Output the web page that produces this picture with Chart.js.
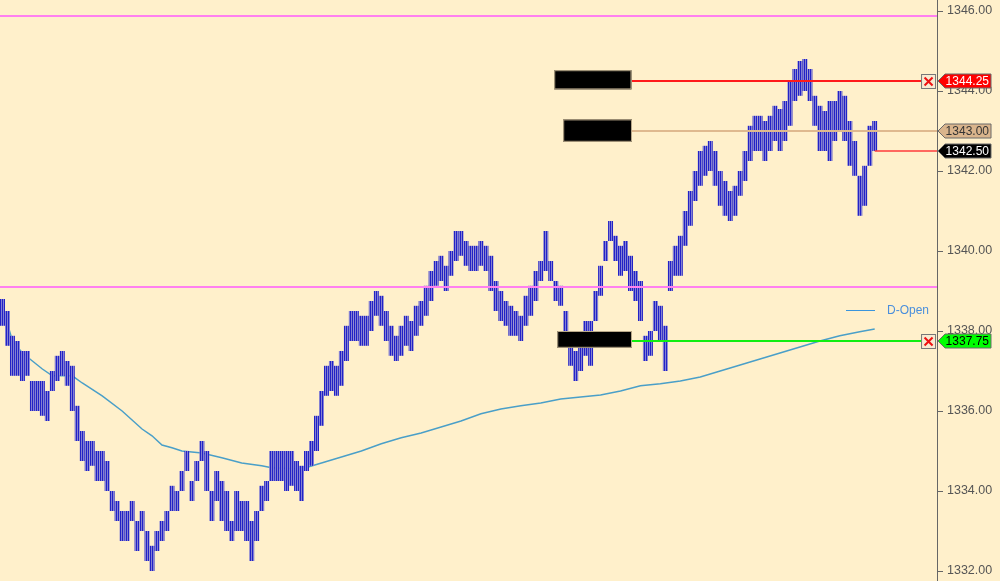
<!DOCTYPE html>
<html>
<head>
<meta charset="utf-8">
<script src="https://cdn.jsdelivr.net/npm/chart.js@4.4.1/dist/chart.umd.min.js"></script>
<style>
  html, body { margin: 0; padding: 0; background: #fff0cb; }
  #wrap { width: 1000px; height: 581px; }
</style>
</head>
<body>
<div id="wrap"><canvas id="priceChart"></canvas></div>
<script>
// Price bars (high / low per bar)
const highs = [
  1338.80, 1338.50, 1337.88, 1337.75, 1337.50, 1337.50, 1336.75, 1336.75, 1336.75, 1336.50,
  1337.00, 1337.38, 1337.50, 1337.25, 1337.13, 1336.13, 1335.50, 1335.25, 1335.25, 1335.00,
  1335.00, 1334.75, 1334.00, 1333.75, 1333.50, 1333.50, 1333.75, 1333.25, 1333.50, 1333.00,
  1332.63, 1333.00, 1333.25, 1333.50, 1334.13, 1334.00, 1334.50, 1335.00, 1334.25, 1334.75,
  1335.25, 1335.00, 1334.00, 1334.50, 1334.25, 1334.00, 1333.25, 1334.00, 1333.75, 1333.75,
  1333.25, 1333.50, 1334.13, 1334.25, 1335.00, 1335.00, 1335.00, 1335.00, 1335.00, 1334.75,
  1334.63, 1335.00, 1335.25, 1335.88, 1336.50, 1337.13, 1337.25, 1337.13, 1337.50, 1338.13,
  1338.50, 1338.50, 1338.38, 1338.38, 1338.75, 1339.00, 1338.88, 1338.50, 1338.13, 1337.88,
  1338.13, 1338.38, 1338.25, 1338.63, 1338.75, 1339.13, 1339.50, 1339.75, 1339.88, 1339.63,
  1340.00, 1340.50, 1340.50, 1340.25, 1340.13, 1340.13, 1340.25, 1340.13, 1339.88, 1339.25,
  1339.00, 1338.75, 1338.63, 1338.50, 1338.38, 1338.88, 1339.13, 1339.50, 1339.75, 1340.50,
  1339.75, 1339.25, 1339.13, 1338.50, 1337.88, 1337.50, 1337.75, 1338.25, 1338.25, 1339.00,
  1339.63, 1340.25, 1340.75, 1340.38, 1340.13, 1340.25, 1339.88, 1339.50, 1339.25, 1337.88,
  1338.00, 1338.75, 1338.63, 1338.13, 1339.75, 1340.13, 1340.38, 1341.00, 1341.50, 1342.00,
  1342.50, 1342.63, 1342.75, 1342.50, 1342.00, 1341.75, 1341.50, 1341.63, 1342.00, 1342.50,
  1343.13, 1343.38, 1343.38, 1343.25, 1343.38, 1343.63, 1343.55, 1343.75, 1344.25, 1344.55,
  1344.75, 1344.80, 1344.55, 1343.88, 1343.63, 1343.50, 1343.75, 1343.75, 1344.00, 1343.88,
  1343.25, 1342.75, 1341.88, 1342.13, 1343.13, 1343.25
];
const lows = [
  1338.13, 1337.63, 1336.88, 1336.88, 1336.75, 1336.88, 1336.00, 1336.00, 1335.88, 1335.75,
  1336.50, 1336.75, 1336.88, 1336.63, 1336.00, 1335.25, 1334.75, 1334.50, 1334.63, 1334.25,
  1334.25, 1334.00, 1333.50, 1333.25, 1332.75, 1332.75, 1333.25, 1332.50, 1333.00, 1332.25,
  1332.00, 1332.50, 1332.75, 1333.00, 1333.50, 1333.50, 1334.00, 1334.50, 1333.75, 1334.25,
  1334.75, 1334.00, 1333.25, 1333.75, 1333.25, 1333.00, 1332.75, 1333.00, 1333.00, 1332.75,
  1332.25, 1332.75, 1333.50, 1333.75, 1334.25, 1334.25, 1334.25, 1334.00, 1334.13, 1334.00,
  1333.75, 1334.50, 1334.63, 1335.00, 1335.63, 1336.38, 1336.50, 1336.38, 1336.63, 1337.25,
  1337.75, 1337.75, 1337.63, 1337.63, 1338.00, 1338.38, 1338.13, 1337.75, 1337.38, 1337.25,
  1337.38, 1337.63, 1337.50, 1337.88, 1338.13, 1338.38, 1338.75, 1339.13, 1339.25, 1339.00,
  1339.38, 1339.75, 1339.88, 1339.63, 1339.50, 1339.50, 1339.63, 1339.50, 1339.00, 1338.50,
  1338.25, 1338.13, 1337.88, 1337.88, 1337.75, 1338.13, 1338.38, 1338.75, 1339.25, 1339.50,
  1339.25, 1338.75, 1338.63, 1337.88, 1337.13, 1336.75, 1337.00, 1337.38, 1337.13, 1338.25,
  1338.88, 1339.75, 1340.25, 1339.75, 1339.38, 1339.50, 1339.00, 1338.75, 1338.25, 1337.25,
  1337.38, 1338.00, 1337.75, 1337.00, 1339.00, 1339.38, 1339.38, 1340.13, 1340.63, 1341.25,
  1341.63, 1341.88, 1342.00, 1341.63, 1341.13, 1340.88, 1340.75, 1340.88, 1341.38, 1341.75,
  1342.25, 1342.50, 1342.50, 1342.25, 1342.50, 1342.75, 1342.50, 1342.75, 1343.13, 1343.75,
  1343.88, 1344.00, 1343.75, 1343.13, 1342.50, 1342.50, 1342.25, 1342.75, 1343.00, 1342.75,
  1342.13, 1341.88, 1340.88, 1341.13, 1342.13, 1342.50
];

// Moving average, read at a subset of bars
const maIndex = [0, 1, 2, 4, 6, 8, 10, 12, 14, 16, 20, 24, 28, 30, 32, 34, 36, 40, 44, 48,
  52, 54, 60, 64, 68, 72, 76, 80, 84, 88, 92, 96, 100, 104, 108, 112, 116, 120, 124, 128,
  132, 136, 140, 144, 148, 152, 156, 160, 164, 168, 172, 175];
const maValues = [1338.30, 1338.18, 1337.75, 1337.45, 1337.25, 1337.05, 1336.88, 1336.88, 1336.88, 1336.70,
  1336.38, 1336.00, 1335.55, 1335.38, 1335.15, 1335.08, 1335.00, 1334.95, 1334.83, 1334.70,
  1334.63, 1334.58, 1334.55, 1334.70, 1334.85, 1335.00, 1335.18, 1335.33, 1335.45, 1335.60,
  1335.75, 1335.93, 1336.05, 1336.13, 1336.20, 1336.30, 1336.35, 1336.40, 1336.50, 1336.63,
  1336.68, 1336.75, 1336.85, 1337.00, 1337.15, 1337.30, 1337.45, 1337.60, 1337.75, 1337.88,
  1337.98, 1338.05];

const tickValues = [1332, 1334, 1336, 1338, 1340, 1342, 1344, 1346];

// Levels
const pinkLevels = [1345.87, 1339.11];
const stopLevel = 1344.25;
const entryLevel = 1343.00;
const lastPrice = 1342.50;
const targetLevel = 1337.75;

const slotCount = 188;
const labels = Array.from({ length: slotCount }, (_, i) => String(i));

const maData = new Array(slotCount).fill(null);
maIndex.forEach((idx, k) => { maData[idx] = maValues[k]; });

// annotation boxes: [fromIndex, toIndex, topPrice, bottomPrice]
const maskBoxes = [
  [110.7, 126.2, 1344.52, 1344.04],
  [112.5, 126.3, 1343.29, 1342.73],
  [111.3, 126.3, 1338.00, 1337.58]
];
const lineStart = 126.3;
const closeBoxIndex = 184.4;

// striped fill: thin dark bar lines with lighter fill between them
function barPattern() {
  const c = document.createElement('canvas');
  c.width = 2;
  c.height = 1;
  const g = c.getContext('2d');
  g.fillStyle = '#2222c6';
  g.fillRect(0, 0, 1, 1);
  g.fillStyle = '#8480d2';
  g.fillRect(1, 0, 1, 1);
  return g.createPattern(c, 'repeat');
}

function hline(ctx, x1, x2, y) {
  ctx.beginPath();
  ctx.moveTo(x1, y);
  ctx.lineTo(x2, y);
  ctx.stroke();
}

function priceTag(ctx, xTip, yc, text, fill, textColor) {
  const h = 14, w = 53, notch = 7;
  ctx.beginPath();
  ctx.moveTo(xTip, yc);
  ctx.lineTo(xTip + notch, yc - h / 2);
  ctx.lineTo(xTip + w, yc - h / 2);
  ctx.lineTo(xTip + w, yc + h / 2);
  ctx.lineTo(xTip + notch, yc + h / 2);
  ctx.closePath();
  ctx.fillStyle = fill;
  ctx.fill();
  ctx.strokeStyle = '#6a6a6a';
  ctx.lineWidth = 1;
  ctx.stroke();
  ctx.fillStyle = textColor;
  ctx.font = '12px "Liberation Sans", Arial, sans-serif';
  ctx.textAlign = 'right';
  ctx.textBaseline = 'middle';
  ctx.fillText(text, xTip + w - 2, yc + 1);
}

function closeBox(ctx, x0, yc) {
  const s = 14;
  const top = Math.round(yc - s / 2) + 0.5;
  ctx.fillStyle = '#f8ead2';
  ctx.fillRect(x0, top, s, s);
  ctx.strokeStyle = '#777';
  ctx.lineWidth = 1;
  ctx.strokeRect(x0, top, s, s);
  ctx.strokeStyle = '#ee1111';
  ctx.lineWidth = 2;
  ctx.beginPath();
  ctx.moveTo(x0 + 3, top + 3);
  ctx.lineTo(x0 + s - 3, top + s - 3);
  ctx.moveTo(x0 + s - 3, top + 3);
  ctx.lineTo(x0 + 3, top + s - 3);
  ctx.stroke();
}

const overlays = {
  id: 'overlays',
  beforeDraw(chart) {
    const ctx = chart.ctx;
    ctx.save();
    ctx.fillStyle = '#fff0cb';
    ctx.fillRect(0, 0, chart.width, chart.height);
    ctx.restore();
  },
  afterDatasetsDraw(chart) {
    const { ctx, chartArea, scales: { x, y } } = chart;
    const py = (v) => Math.round(y.getPixelForValue(v));
    const startX = x.getPixelForValue(lineStart);
    const boxX = x.getPixelForValue(closeBoxIndex);
    ctx.save();

    ctx.lineWidth = 2;
    ctx.strokeStyle = '#ff80f0';
    pinkLevels.forEach((p) => hline(ctx, chartArea.left, chartArea.right, py(p)));

    ctx.strokeStyle = '#ff1a1a';
    hline(ctx, startX, boxX, py(stopLevel));
    ctx.strokeStyle = '#dfb98f';
    hline(ctx, startX, chartArea.right, py(entryLevel));
    ctx.strokeStyle = '#12ee12';
    hline(ctx, startX, boxX, py(targetLevel));

    // last price marker line
    ctx.lineWidth = 1.5;
    ctx.strokeStyle = '#ff3b3b';
    hline(ctx, x.getPixelForValue(highs.length - 1), chartArea.right, py(lastPrice));

    maskBoxes.forEach(([i0, i1, hi, lo]) => {
      const x0 = x.getPixelForValue(i0), x1 = x.getPixelForValue(i1);
      const y0 = y.getPixelForValue(hi), y1 = y.getPixelForValue(lo);
      ctx.fillStyle = '#000';
      ctx.fillRect(x0, y0, x1 - x0, y1 - y0);
      ctx.strokeStyle = '#b9a98a';
      ctx.lineWidth = 1;
      ctx.strokeRect(x0 + 0.5, y0 + 0.5, x1 - x0 - 1, y1 - y0 - 1);
    });

    closeBox(ctx, boxX, py(stopLevel));
    closeBox(ctx, boxX, py(targetLevel));
    ctx.restore();
  },
  afterDraw(chart) {
    const { ctx, chartArea, scales: { y } } = chart;
    const tip = chartArea.right + 1;
    ctx.save();
    priceTag(ctx, tip, y.getPixelForValue(stopLevel), stopLevel.toFixed(2), '#ff0000', '#ffffff');
    priceTag(ctx, tip, y.getPixelForValue(entryLevel), entryLevel.toFixed(2), '#d9b48c', '#333333');
    priceTag(ctx, tip, y.getPixelForValue(lastPrice), lastPrice.toFixed(2), '#000000', '#ffffff');
    priceTag(ctx, tip, y.getPixelForValue(targetLevel), targetLevel.toFixed(2), '#00ff00', '#000000');

    // legend
    ctx.strokeStyle = '#3a95dc';
    ctx.lineWidth = 1;
    hline(ctx, chartArea.right - 91, chartArea.right - 62, 310.5);
    ctx.fillStyle = '#4a8fdc';
    ctx.font = '12px "Liberation Sans", Arial, sans-serif';
    ctx.textAlign = 'left';
    ctx.textBaseline = 'middle';
    ctx.fillText('D-Open', chartArea.right - 50, 311);
    ctx.restore();
  }
};

const ctx = document.getElementById('priceChart').getContext('2d');
const priceChart = new Chart(ctx, {
  type: 'bar',
  data: {
    labels: labels,
    datasets: [
      {
        type: 'bar',
        label: 'Price',
        data: highs.map((h, i) => [lows[i], h]),
        backgroundColor: barPattern(),
        borderWidth: 0,
        barPercentage: 1,
        categoryPercentage: 1,
        inflateAmount: 0,
        order: 1
      },
      {
        type: 'line',
        label: 'D-Open',
        data: maData,
        borderColor: '#4a9fc8',
        borderWidth: 1.5,
        pointRadius: 0,
        spanGaps: true,
        tension: 0,
        order: 2
      }
    ]
  },
  options: {
    responsive: true,
    maintainAspectRatio: false,
    animation: false,
    layout: { padding: 0 },
    plugins: {
      legend: { display: false },
      tooltip: { enabled: false }
    },
    scales: {
      x: {
        display: false,
        offset: true
      },
      y: {
        position: 'right',
        min: 1331.75,
        max: 1346.275,
        afterBuildTicks: (axis) => {
          axis.ticks = tickValues.map((v) => ({ value: v }));
        },
        afterFit: (axis) => {
          axis.width = 63;
          axis.paddingTop = 0;
          axis.paddingBottom = 0;
        },
        grid: {
          drawOnChartArea: false,
          drawTicks: true,
          tickLength: 6,
          color: '#666666'
        },
        border: { display: true, color: '#666666', width: 1 },
        ticks: {
          color: '#555555',
          padding: 4,
          font: { family: '"Liberation Sans", Arial, sans-serif', size: 12.5 },
          callback: (v) => Number(v).toFixed(2)
        }
      }
    }
  },
  plugins: [overlays]
});
</script>
</body>
</html>
